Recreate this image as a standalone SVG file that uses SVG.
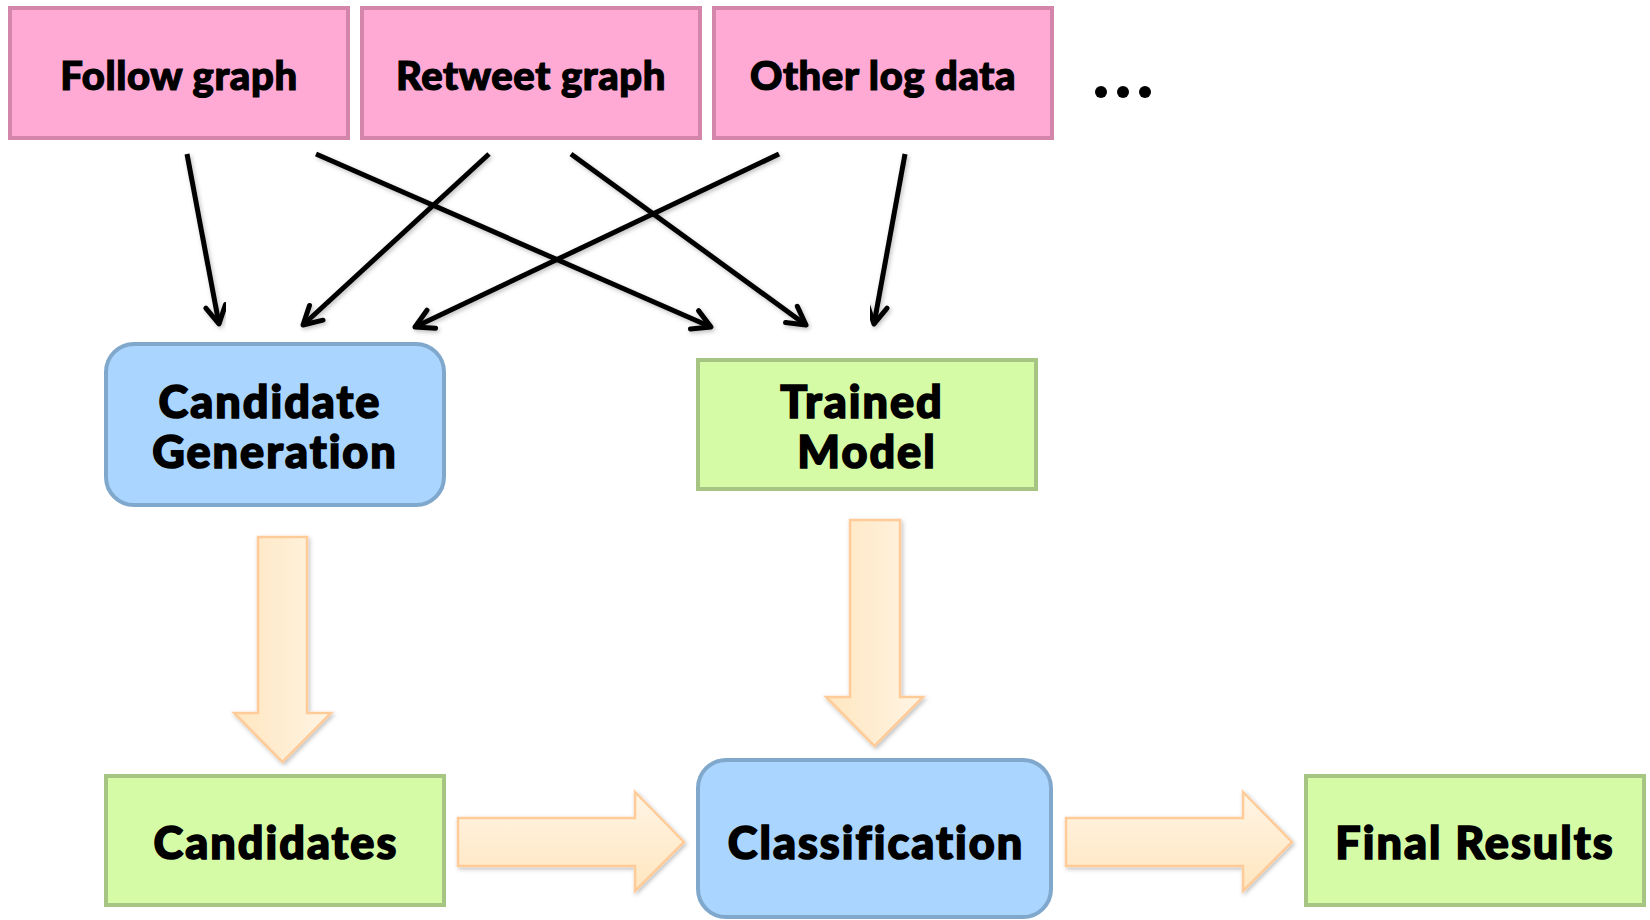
<svg xmlns="http://www.w3.org/2000/svg" width="1650" height="920" viewBox="0 0 1650 920">
  <style>
    .pink { fill: #FFAAD5; stroke: #D386A9; stroke-width: 4; }
    .blue { fill: #A9D5FF; stroke: #80A8CD; stroke-width: 4; }
    .green { fill: #D6FBA7; stroke: #A6C482; stroke-width: 4; }
    .lbl-top { font-family: Lato, "Liberation Sans", sans-serif; font-weight: 900; font-size: 40px; fill: #000; stroke: #000; stroke-width: 1.2px; text-anchor: middle; letter-spacing: 0.6px; }
    .lbl { font-family: Lato, "Liberation Sans", sans-serif; font-weight: 900; font-size: 45px; fill: #000; stroke: #000; stroke-width: 1.6px; text-anchor: middle; letter-spacing: 2px; }
    .wire { fill: none; stroke: #000; stroke-width: 5; marker-end: url(#chev); filter: url(#soft); }
    .block { fill: url(#peachV); stroke: #FFCB98; stroke-width: 2.5; filter: url(#soft); }
    .blockH { fill: url(#peachH); stroke: #FFCB98; stroke-width: 2.5; filter: url(#soft); }
  </style>
  <defs>
    <marker id="chev" viewBox="0 0 28 28" refX="23" refY="14" markerWidth="28" markerHeight="28" markerUnits="userSpaceOnUse" orient="auto">
      <path d="M5,4 L23,14 L5,24" fill="none" stroke="#000" stroke-width="5" stroke-linecap="round" stroke-linejoin="round"/>
    </marker>
    <linearGradient id="peachV" x1="0" y1="0" x2="1" y2="0">
      <stop offset="0" stop-color="#FFE6BF"/>
      <stop offset="1" stop-color="#FFF4E4"/>
    </linearGradient>
    <linearGradient id="peachH" x1="0" y1="0" x2="0" y2="1">
      <stop offset="0" stop-color="#FFF4E4"/>
      <stop offset="1" stop-color="#FFE6BF"/>
    </linearGradient>
    <filter id="soft" x="-10%" y="-10%" width="130%" height="130%">
      <feDropShadow dx="1.5" dy="2" stdDeviation="2" flood-color="#000" flood-opacity="0.25"/>
    </filter>
  </defs>

  <rect width="1650" height="920" fill="#fff"/>

  <!-- data sources -->
  <g id="follow-graph">
    <rect class="pink" x="10" y="8" width="338" height="130"/>
    <text class="lbl-top" x="179" y="90">Follow graph</text>
  </g>
  <g id="retweet-graph">
    <rect class="pink" x="362" y="8" width="338" height="130"/>
    <text class="lbl-top" x="531" y="90">Retweet graph</text>
  </g>
  <g id="other-log-data">
    <rect class="pink" x="714" y="8" width="338" height="130"/>
    <text class="lbl-top" x="883" y="90">Other log data</text>
  </g>
  <g id="more-sources">
    <circle cx="1101" cy="92" r="6"/>
    <circle cx="1123" cy="92" r="6"/>
    <circle cx="1145" cy="92" r="6"/>
  </g>

  <!-- processing stages -->
  <g id="candidate-generation">
    <rect class="blue" x="106" y="344" width="338" height="161" rx="28"/>
    <text class="lbl" x="270" y="418">Candidate</text>
    <text class="lbl" x="275" y="468">Generation</text>
  </g>
  <g id="trained-model">
    <rect class="green" x="698" y="360" width="338" height="129"/>
    <text class="lbl" x="862" y="418">Trained</text>
    <text class="lbl" x="867" y="468">Model</text>
  </g>
  <g id="candidates">
    <rect class="green" x="106" y="776" width="338" height="129"/>
    <text class="lbl" x="276" y="859">Candidates</text>
  </g>
  <g id="classification">
    <rect class="blue" x="698" y="760" width="353" height="157" rx="28"/>
    <text class="lbl" x="876" y="859">Classification</text>
  </g>
  <g id="final-results">
    <rect class="green" x="1306" y="776" width="338" height="129"/>
    <text class="lbl" x="1475" y="859">Final Results</text>
  </g>

  <!-- connectors -->
  <g id="connectors">
    <path class="wire" d="M187,154 L219,324"/>
    <path class="wire" d="M316,154 L711,327"/>
    <path class="wire" d="M489,154 L303,325"/>
    <path class="wire" d="M571,154 L806,325"/>
    <path class="wire" d="M779,154 L415,327"/>
    <path class="wire" d="M905,154 L874,324"/>

    <path class="block" d="M258,537 H307 V713 H331 L282.5,762 L234,713 H258 Z"/>
    <path class="block" d="M850,520 H900 V697 H923 L874.5,746 L826,697 H850 Z"/>
    <path class="blockH" d="M458,818 H635 V792 L684,842 L635,891 V866 H458 Z"/>
    <path class="blockH" d="M1066,818 H1243 V792 L1292,842 L1243,891 V866 H1066 Z"/>
  </g>
</svg>
